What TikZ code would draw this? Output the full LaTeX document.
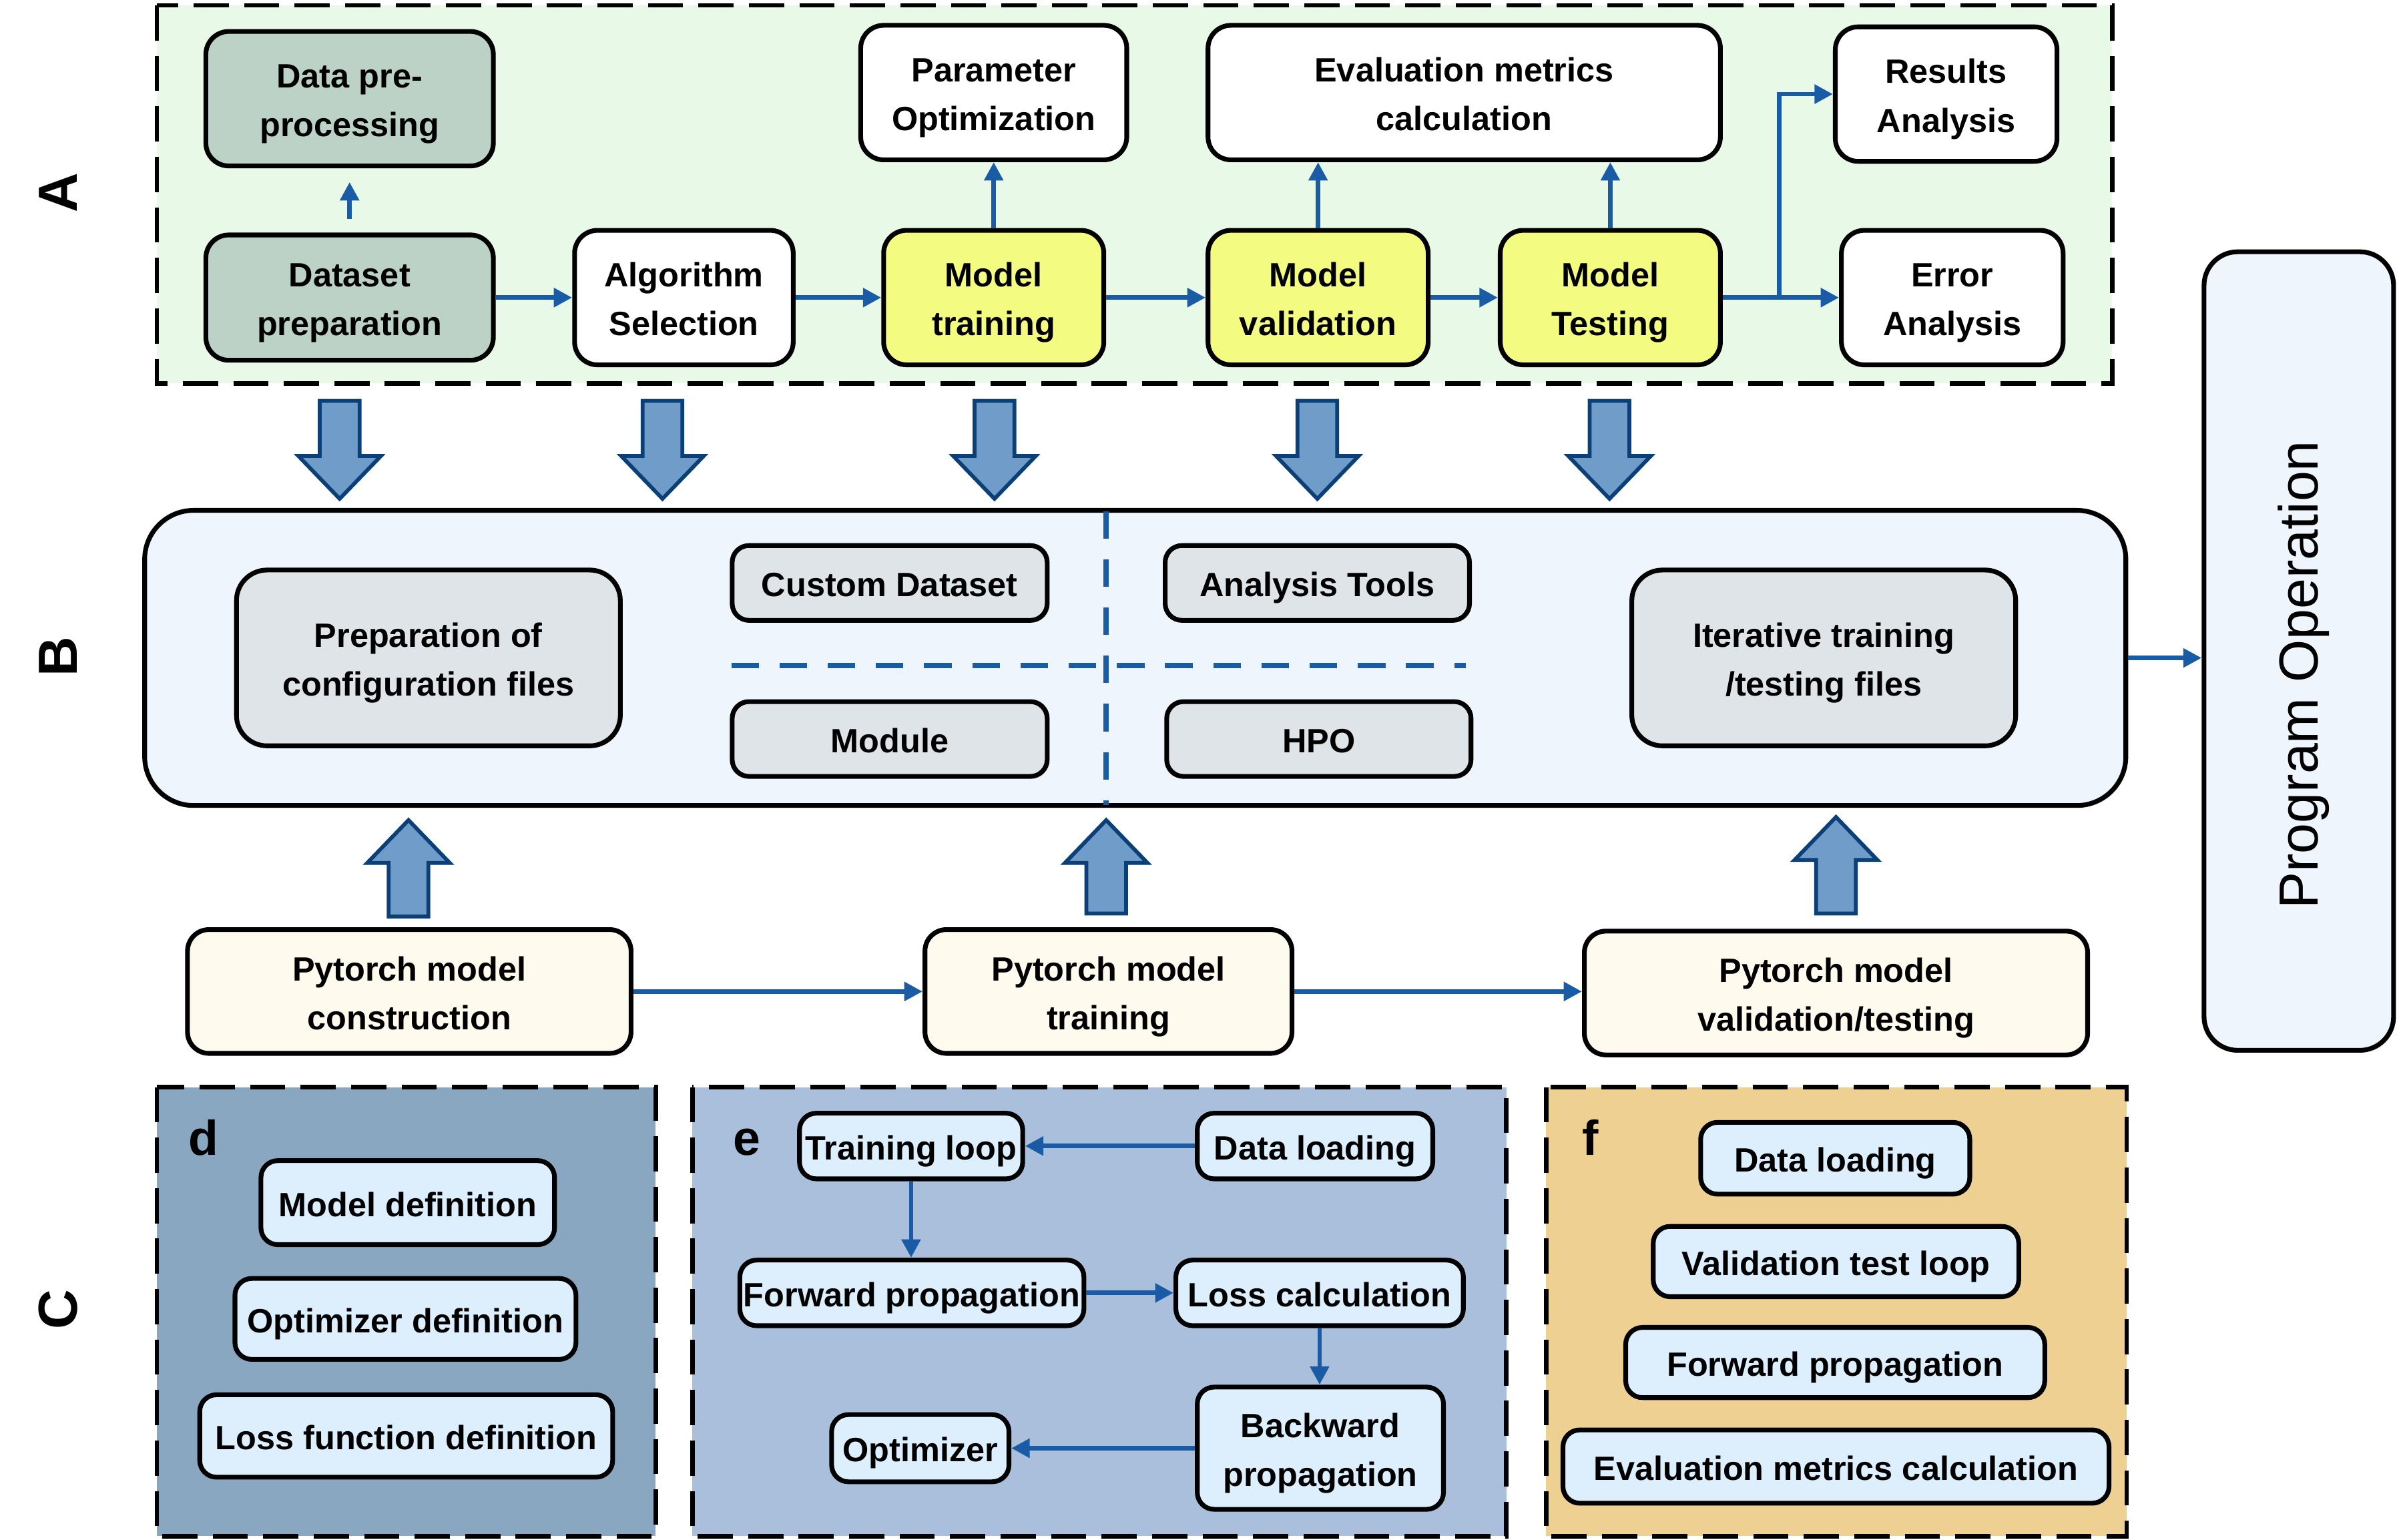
\documentclass[tikz,border=0pt]{standalone}
\usepackage{fontspec}
\setmainfont{Liberation Sans}
\usepackage{graphicx}
\usetikzlibrary{arrows.meta}
\definecolor{cA}{HTML}{E9F9E8}
\definecolor{cPrep}{HTML}{BDD2C7}
\definecolor{cYel}{HTML}{F3FC80}
\definecolor{cB}{HTML}{EEF5FC}
\definecolor{cIn}{HTML}{DEE4E8}
\definecolor{cCream}{HTML}{FEFBEE}
\definecolor{cD}{HTML}{8AA7C2}
\definecolor{cE}{HTML}{A9BFDC}
\definecolor{cF}{HTML}{EDD092}
\definecolor{cSm}{HTML}{DDEFFD}
\definecolor{cArr}{HTML}{1A5BA6}
\definecolor{cBlk}{HTML}{6F9CC8}
\definecolor{cBlkD}{HTML}{0B3F77}
\newcommand\tx[1]{\raisebox{-2.5pt}[\height][\depth]{\begin{tabular}{@{}c@{}}#1\end{tabular}}}
\newcommand\bx[7]{\node[#6, minimum width={#4-#2-3.1}, minimum height={#5-#3-3.1}] (#1) at ({(#2+#4)/2},{(#3+#5)/2}) {\tx{#7}};}
\newcommand\dnarr[1]{\draw[blk] ({#1-13},262) -- ({#1+13},262) -- ({#1+13},298) -- ({#1+27},298) -- (#1,326) -- ({#1-27},298) -- ({#1-13},298) -- cycle;}
\newcommand\uparr[3]{\draw[blk] ({#1-13},#2) -- ({#1+13},#2) -- ({#1+13},{#3+28}) -- ({#1+27},{#3+28}) -- (#1,#3) -- ({#1-27},{#3+28}) -- ({#1-13},{#3+28}) -- cycle;}
\tikzset{
  box/.style={draw, line width=3.1pt, inner sep=0pt, text=black,
    font=\fontsize{22}{32}\selectfont\bfseries},
  gbox/.style={box, fill=cPrep, rounded corners=15pt},
  wbox/.style={box, fill=white, rounded corners=15pt},
  ybox/.style={box, fill=cYel, rounded corners=15pt},
  bbox/.style={box, fill=cB, rounded corners=32pt},
  pbox/.style={box, fill=cB, rounded corners=22pt, font=\fontsize{36}{40}\selectfont},
  ibox/.style={box, fill=cIn, rounded corners=20pt},
  iboxs/.style={box, fill=cIn, rounded corners=11pt},
  cbox/.style={box, fill=cCream, rounded corners=14pt},
  sbox/.style={box, fill=cSm, rounded corners=11pt},
  panel/.style={draw=black, line width=3pt, dash pattern=on 23pt off 10pt},
  arr/.style={draw=cArr, line width=3pt, -{Triangle[length=12pt,width=12pt]}},
  divider/.style={draw=cArr, line width=3.6pt, dash pattern=on 18pt off 13.5pt},
  blk/.style={fill=cBlk, draw=cBlkD, line width=2.5pt, line join=miter},
  side/.style={font=\fontsize{36}{40}\selectfont\bfseries, rotate=90, inner sep=0pt},
  plabel/.style={font=\fontsize{32}{36}\selectfont\bfseries, inner sep=0pt, anchor=base west}
}
\begin{document}
\begin{tikzpicture}[x=1pt,y=-1pt]
\useasboundingbox (0,0) rectangle (1568,1006.5);
% panels
\draw[panel, fill=cA] (102.5,3.5) rectangle (1380.5,250.5);
\draw[panel, fill=cD] (102.5,710.5) rectangle (428.5,1004);
\draw[panel, fill=cE] (452.5,710.5) rectangle (984.5,1004);
\draw[panel, fill=cF] (1010.5,710.5) rectangle (1390,1004);
% side letters
\node[side] (lA) at (38,126) {A};
\node[side] (lB) at (38,429) {B};
\node[side] (lC) at (38,856) {C};
% panel A boxes
\bx{pre}{133}{19}{324}{110}{gbox}{Data pre-\\processing}
\bx{dp}{133}{152}{324}{237}{gbox}{Dataset\\preparation}
\bx{alg}{374}{149}{520}{240}{wbox}{Algorithm\\Selection}
\bx{trn}{576}{149}{723}{240}{ybox}{Model\\training}
\bx{par}{561}{15}{738}{106}{wbox}{Parameter\\Optimization}
\bx{val}{788}{149}{935}{240}{ybox}{Model\\validation}
\bx{evm}{788}{15}{1126}{106}{wbox}{Evaluation metrics\\calculation}
\bx{tst}{979}{149}{1126}{240}{ybox}{Model\\Testing}
\bx{res}{1198}{16}{1346}{107}{wbox}{Results\\Analysis}
\bx{err}{1202}{149}{1350}{240}{wbox}{Error\\Analysis}
\draw[arr] ([yshift=9pt]dp.north) -- ([yshift=-9pt]pre.south);
\draw[arr] (dp.east) -- (alg.west);
\draw[arr] (alg.east) -- (trn.west);
\draw[arr] (trn.east) -- (val.west);
\draw[arr] (val.east) -- (tst.west);
\draw[arr] (tst.east) -- (err.west);
\draw[arr] (tst.east) -- ++(37,0) |- (res.west);
\draw[arr] (trn.north) -- (trn.north |- par.south);
\draw[arr] (val.north) -- (val.north |- evm.south);
\draw[arr] (tst.north) -- (tst.north |- evm.south);
% block arrows down
\dnarr{222}\dnarr{433}\dnarr{650}\dnarr{861}\dnarr{1052}
% panel B
\node[bbox, minimum width=1294.9, minimum height=192.9] (B) at (742,430) {};
\draw[divider] (723,334) -- (723,526);
\draw[divider] (478,435) -- (958,435);
\bx{cfg}{153}{371}{407}{489}{ibox}{Preparation of\\configuration files}
\bx{cds}{477}{355}{686}{407}{iboxs}{Custom Dataset}
\bx{mod}{477}{457}{686}{509}{iboxs}{Module}
\bx{ant}{760}{355}{962}{407}{iboxs}{Analysis Tools}
\bx{hpo}{761}{457}{963}{509}{iboxs}{HPO}
\bx{itf}{1065}{371}{1319}{489}{ibox}{Iterative training\\/testing files}
\node[pbox, minimum width=123.9, minimum height=521.9] (prog) at (1502.5,425.5)
  {\rotatebox{90}{\hspace*{-31pt}\rule{0pt}{32pt}Program Operation}};
\draw[arr] (B.east) -- (B.east -| prog.west);
% pytorch row
\bx{pc}{121}{606}{414}{690}{cbox}{Pytorch model\\construction}
\bx{pt}{603}{606}{846}{690}{cbox}{Pytorch model\\training}
\bx{pv}{1034}{607}{1366}{691}{cbox}{Pytorch model\\validation/testing}
\draw[arr] (pc.east) -- (pc.east -| pt.west);
\draw[arr] (pt.east) -- (pt.east -| pv.west);
\uparr{267}{599}{536}
\uparr{723}{597}{536}
\uparr{1200}{597}{534}
% panel labels
\node[plabel] (ld) at (123,755) {d};
\node[plabel] (le) at (479,755) {e};
\node[plabel] (lf) at (1034,755) {f};
% panel d
\bx{md}{169}{757}{364}{815}{sbox}{Model definition}
\bx{od}{152}{834}{378}{890}{sbox}{Optimizer definition}
\bx{lf}{129}{910}{402}{967}{sbox}{Loss function definition}
% panel e
\bx{tl}{521}{726}{670}{772}{sbox}{Training loop}
\bx{dl}{781}{726}{938}{772}{sbox}{Data loading}
\bx{fp}{482}{822}{710}{868}{sbox}{Forward propagation}
\bx{lc}{767}{822}{958}{868}{sbox}{Loss calculation}
\bx{bp}{781}{905}{945}{988}{sbox}{Backward\\propagation}
\bx{op}{542}{923}{661}{970}{sbox}{Optimizer}
\draw[arr] (dl.west) -- (dl.west -| tl.east);
\draw[arr] (tl.south) -- (tl.south |- fp.north);
\draw[arr] (fp.east) -- (fp.east -| lc.west);
\draw[arr] (lc.south) -- (lc.south |- bp.north);
\draw[arr] (bp.west) -- (bp.west -| op.east);
% panel f
\bx{fdl}{1110}{732}{1289}{782}{sbox}{Data loading}
\bx{vtl}{1079}{800}{1321}{849}{sbox}{Validation test loop}
\bx{ffp}{1061}{866}{1338}{915}{sbox}{Forward propagation}
\bx{emc}{1020}{933}{1380}{984}{sbox}{Evaluation metrics calculation}
\end{tikzpicture}
\end{document}
